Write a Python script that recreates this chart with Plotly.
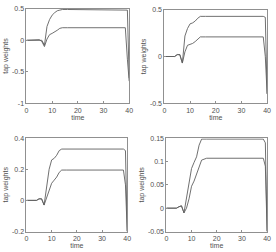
import plotly.graph_objects as go

t = [0, 2, 4, 5, 6, 7, 8, 9, 10, 11, 12, 13, 14, 16, 20, 25, 30, 35, 38.5, 39.3, 40]

p1_upper = [0, 0, 0, 0.01, 0.0, -0.08, 0.22, 0.33, 0.40, 0.44, 0.47, 0.48, 0.49, 0.49, 0.49, 0.49, 0.49, 0.49, 0.49, 0.48, -0.6]
p1_lower = [0, 0, 0, 0.01, -0.02, -0.10, 0.02, 0.09, 0.11, 0.13, 0.16, 0.19, 0.20, 0.20, 0.20, 0.20, 0.20, 0.20, 0.20, -0.3, -0.65]

p2_upper = [0, 0, 0, 0.02, 0.02, -0.07, 0.22, 0.30, 0.35, 0.36, 0.38, 0.41, 0.43, 0.43, 0.43, 0.43, 0.43, 0.43, 0.43, 0.42, -0.4]
p2_lower = [0, 0, 0, 0.02, 0.02, -0.07, 0.05, 0.12, 0.13, 0.14, 0.16, 0.19, 0.21, 0.21, 0.21, 0.21, 0.21, 0.21, 0.21, 0.0, -0.4]

p3_upper = [0, 0, 0, 0.01, 0.01, -0.03, 0.08, 0.20, 0.26, 0.27, 0.29, 0.32, 0.33, 0.33, 0.33, 0.33, 0.33, 0.33, 0.33, 0.32, -0.2]
p3_lower = [0, 0, 0, 0.01, 0.01, -0.03, 0.02, 0.07, 0.11, 0.13, 0.15, 0.18, 0.195, 0.195, 0.195, 0.195, 0.195, 0.195, 0.195, 0.1, -0.2]

p4_upper = [0, 0, 0, 0.003, 0.005, -0.01, 0.025, 0.055, 0.085, 0.098, 0.11, 0.135, 0.148, 0.148, 0.148, 0.148, 0.148, 0.148, 0.148, 0.14, -0.05]
p4_lower = [0, 0, 0, 0.003, 0.005, -0.01, 0.0, 0.02, 0.047, 0.058, 0.072, 0.088, 0.103, 0.107, 0.107, 0.107, 0.107, 0.107, 0.107, 0.09, -0.05]

x_ticks = [0, 10, 20, 30, 40]
y_ranges = [[-1, 0.5], [-0.5, 0.5], [-0.2, 0.4], [-0.05, 0.15]]
y_ticks = [[-1, -0.5, 0, 0.5], [-0.5, 0, 0.5], [-0.2, 0, 0.2, 0.4], [-0.05, 0, 0.05, 0.1, 0.15]]
y_ticktext = [["-1", "-0.5", "0", "0.5"], ["-0.5", "0", "0.5"], ["-0.2", "0", "0.2", "0.4"], ["-0.05", "0", "0.05", "0.1", "0.15"]]

panels = [(p1_upper, p1_lower), (p2_upper, p2_lower), (p3_upper, p3_lower), (p4_upper, p4_lower)]

W, H = 276, 252
# pixel boxes (x0, x1, ytop, ybottom)
boxes = [(25, 130, 5, 102), (166, 271, 6, 102), (25, 128, 138, 234), (168, 271, 138, 234)]

fig = go.Figure()
line_col = "#606060"
axis_col = "#909090"
font = dict(family="Liberation Sans, Arial, sans-serif", size=7, color="#505050")

for i, (up, lo) in enumerate(panels):
    n = "" if i == 0 else str(i + 1)
    for s in (up, lo):
        fig.add_trace(go.Scatter(x=t, y=s, mode="lines", xaxis="x" + n, yaxis="y" + n,
                                 line=dict(color=line_col, width=0.9), showlegend=False, hoverinfo="skip"))
    x0, x1, yt, yb = boxes[i]
    common = dict(showline=True, mirror=True, linecolor=axis_col, linewidth=1, ticks="inside",
                  ticklen=2, tickcolor=axis_col, showgrid=False, zeroline=False, tickfont=font)
    fig.layout["xaxis" + n] = dict(domain=[x0 / W, x1 / W], range=[0, 40], tickvals=x_ticks,
                                   anchor="y" + n, title=dict(text="time", font=font, standoff=0), **common)
    fig.layout["yaxis" + n] = dict(domain=[1 - yb / H, 1 - yt / H], range=y_ranges[i],
                                   tickvals=y_ticks[i], ticktext=y_ticktext[i], anchor="x" + n,
                                   title=dict(text="tap weights", font=font, standoff=2), **common)

fig.update_layout(width=W, height=H, margin=dict(l=0, r=0, t=0, b=0),
                  paper_bgcolor="white", plot_bgcolor="white", font=font)
fig.write_html("out.html")
